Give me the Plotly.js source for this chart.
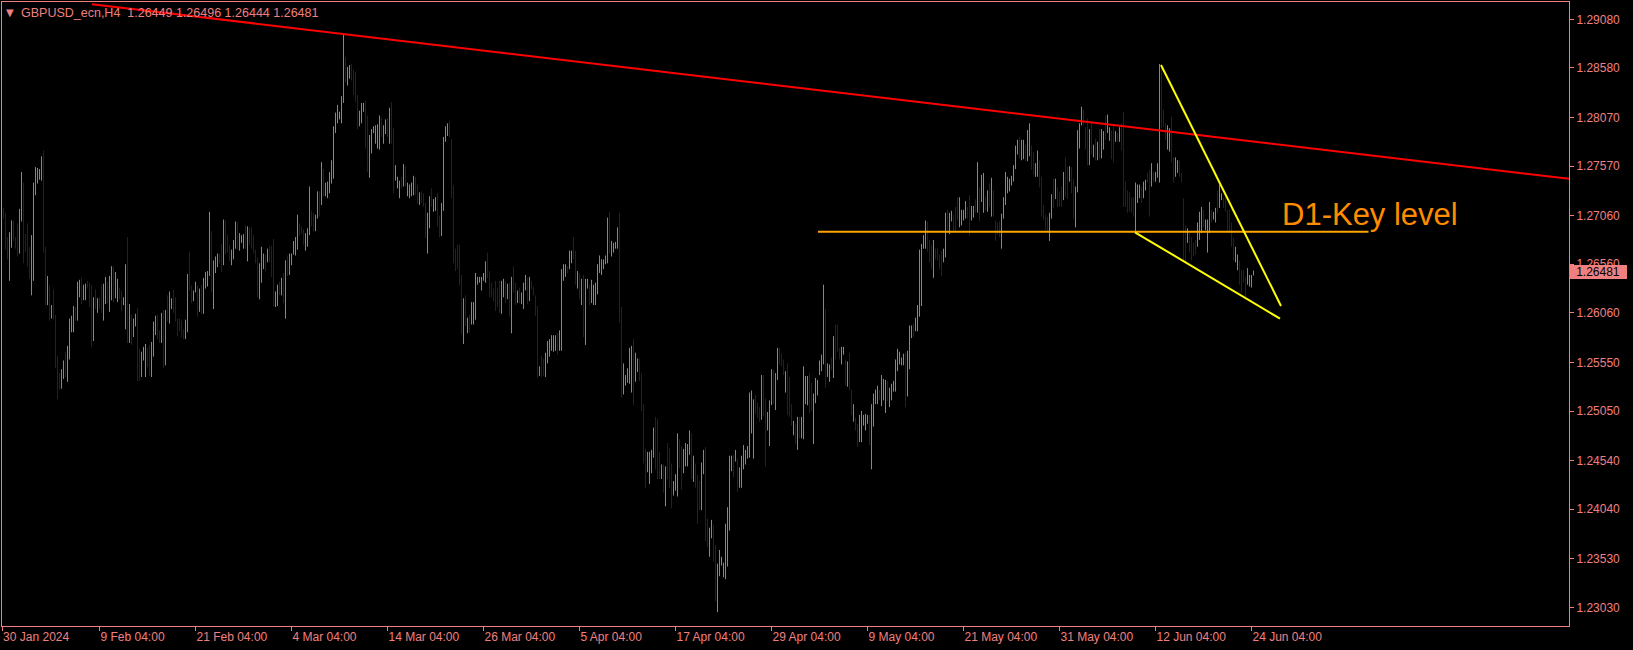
<!DOCTYPE html>
<html>
<head>
<meta charset="utf-8">
<script src="https://cdn.plot.ly/plotly-3.0.1.min.js"></script>
<style>
html,body{margin:0;padding:0;background:#000;overflow:hidden;}
#chart{width:1633px;height:650px;}
</style>
</head>
<body>
<div id="chart"></div>
<script>
// GBPUSD_ecn H4 bars (high / low), oldest first
const barHigh = [
1.2714,1.2709,1.2684,1.2689,1.2701,1.2701,1.2684,1.2698,1.2713,1.2751,
1.2740,1.2687,1.2698,1.2674,1.2686,1.2740,1.2756,1.2755,1.2754,1.2767,
1.2773,1.2674,1.2644,1.2634,1.2614,1.2630,1.2604,1.2562,1.2544,1.2548,
1.2557,1.2566,1.2572,1.2600,1.2603,1.2613,1.2612,1.2638,1.2640,1.2642,
1.2635,1.2636,1.2639,1.2637,1.2635,1.2622,1.2630,1.2621,1.2622,1.2635,
1.2636,1.2643,1.2638,1.2644,1.2654,1.2654,1.2648,1.2641,1.2632,1.2629,
1.2622,1.2656,1.2684,1.2615,1.2604,1.2600,1.2605,1.2611,1.2569,1.2566,
1.2571,1.2574,1.2570,1.2573,1.2576,1.2597,1.2603,1.2604,1.2588,1.2606,
1.2609,1.2609,1.2624,1.2628,1.2621,1.2630,1.2622,1.2600,1.2600,1.2598,
1.2589,1.2599,1.2646,1.2669,1.2634,1.2629,1.2638,1.2634,1.2631,1.2635,
1.2642,1.2648,1.2649,1.2710,1.2690,1.2660,1.2664,1.2667,1.2667,1.2677,
1.2702,1.2701,1.2686,1.2676,1.2671,1.2681,1.2700,1.2699,1.2688,1.2686,
1.2687,1.2696,1.2695,1.2694,1.2694,1.2686,1.2671,1.2663,1.2657,1.2674,
1.2667,1.2666,1.2672,1.2675,1.2675,1.2682,1.2628,1.2635,1.2638,1.2642,
1.2647,1.2660,1.2665,1.2667,1.2667,1.2680,1.2684,1.2707,1.2698,1.2695,
1.2692,1.2688,1.2693,1.2736,1.2711,1.2709,1.2707,1.2731,1.2731,1.2761,
1.2754,1.2740,1.2741,1.2751,1.2763,1.2798,1.2812,1.2820,1.2813,1.2829,
1.2893,1.2869,1.2859,1.2861,1.2862,1.2856,1.2854,1.2830,1.2814,1.2822,
1.2822,1.2824,1.2809,1.2789,1.2795,1.2798,1.2799,1.2800,1.2809,1.2807,
1.2799,1.2805,1.2806,1.2817,1.2823,1.2796,1.2758,1.2746,1.2742,1.2746,
1.2759,1.2757,1.2740,1.2738,1.2740,1.2747,1.2746,1.2738,1.2730,1.2731,
1.2729,1.2719,1.2709,1.2726,1.2734,1.2723,1.2725,1.2729,1.2706,1.2719,
1.2787,1.2798,1.2801,1.2803,1.2785,1.2737,1.2672,1.2676,1.2676,1.2645,
1.2621,1.2624,1.2601,1.2604,1.2617,1.2617,1.2647,1.2643,1.2643,1.2643,
1.2647,1.2659,1.2668,1.2649,1.2637,1.2631,1.2639,1.2632,1.2639,1.2639,
1.2641,1.2639,1.2636,1.2637,1.2643,1.2654,1.2637,1.2629,1.2632,1.2627,
1.2637,1.2645,1.2642,1.2643,1.2639,1.2633,1.2624,1.2613,1.2551,1.2562,
1.2559,1.2565,1.2577,1.2579,1.2583,1.2583,1.2583,1.2585,1.2588,1.2651,
1.2656,1.2656,1.2654,1.2670,1.2670,1.2684,1.2670,1.2649,1.2647,1.2641,
1.2645,1.2641,1.2641,1.2635,1.2640,1.2635,1.2637,1.2656,1.2665,1.2661,
1.2661,1.2665,1.2704,1.2710,1.2680,1.2678,1.2679,1.2694,1.2709,1.2612,
1.2554,1.2542,1.2549,1.2570,1.2572,1.2579,1.2565,1.2559,1.2559,1.2544,
1.2512,1.2466,1.2463,1.2463,1.2465,1.2488,1.2499,1.2497,1.2463,1.2450,
1.2450,1.2448,1.2472,1.2467,1.2451,1.2433,1.2440,1.2482,1.2476,1.2469,
1.2466,1.2472,1.2471,1.2485,1.2482,1.2459,1.2451,1.2439,1.2433,1.2452,
1.2465,1.2468,1.2394,1.2385,1.2393,1.2388,1.2367,1.2348,1.2362,1.2355,
1.2349,1.2389,1.2406,1.2459,1.2459,1.2460,1.2465,1.2456,1.2447,1.2459,
1.2470,1.2465,1.2469,1.2524,1.2526,1.2517,1.2522,1.2514,1.2509,1.2542,
1.2542,1.2518,1.2504,1.2516,1.2548,1.2547,1.2544,1.2570,1.2570,1.2564,
1.2558,1.2546,1.2554,1.2540,1.2512,1.2495,1.2492,1.2499,1.2499,1.2499,
1.2551,1.2541,1.2541,1.2544,1.2534,1.2523,1.2539,1.2537,1.2557,1.2563,
1.2635,1.2610,1.2554,1.2553,1.2560,1.2582,1.2594,1.2594,1.2570,1.2571,
1.2571,1.2558,1.2556,1.2565,1.2527,1.2512,1.2498,1.2492,1.2501,1.2505,
1.2501,1.2502,1.2501,1.2501,1.2512,1.2523,1.2527,1.2531,1.2527,1.2542,
1.2538,1.2537,1.2536,1.2529,1.2533,1.2536,1.2558,1.2569,1.2566,1.2560,
1.2564,1.2565,1.2567,1.2593,1.2593,1.2595,1.2601,1.2614,1.2671,1.2677,
1.2686,1.2701,1.2700,1.2681,1.2676,1.2681,1.2672,1.2672,1.2666,1.2670,
1.2672,1.2709,1.2712,1.2709,1.2711,1.2707,1.2715,1.2725,1.2725,1.2712,
1.2712,1.2721,1.2715,1.2727,1.2716,1.2716,1.2723,1.2761,1.2735,1.2748,
1.2750,1.2725,1.2732,1.2739,1.2745,1.2732,1.2701,1.2699,1.2700,1.2708,
1.2725,1.2751,1.2746,1.2744,1.2747,1.2758,1.2778,1.2784,1.2787,1.2784,
1.2784,1.2779,1.2794,1.2801,1.2778,1.2771,1.2760,1.2773,1.2763,1.2746,
1.2717,1.2707,1.2705,1.2709,1.2728,1.2744,1.2744,1.2735,1.2731,1.2736,
1.2751,1.2766,1.2756,1.2757,1.2756,1.2744,1.2736,1.2794,1.2801,1.2818,
1.2815,1.2797,1.2806,1.2795,1.2802,1.2779,1.2785,1.2782,1.2795,1.2795,
1.2793,1.2809,1.2810,1.2797,1.2794,1.2799,1.2793,1.2791,1.2797,1.2801,
1.2813,1.2741,1.2732,1.2730,1.2725,1.2725,1.2740,1.2738,1.2738,1.2736,
1.2741,1.2743,1.2750,1.2753,1.2760,1.2751,1.2751,1.2760,1.2862,1.2859,
1.2815,1.2801,1.2799,1.2796,1.2808,1.2766,1.2766,1.2763,1.2763,1.2750,
1.2724,1.2696,1.2693,1.2688,1.2684,1.2678,1.2681,1.2699,1.2710,1.2715,
1.2712,1.2702,1.2702,1.2720,1.2712,1.2710,1.2714,1.2732,1.2738,1.2729,
1.2724,1.2725,1.2712,1.2712,1.2699,1.2683,1.2674,1.2666,1.2660,1.2650,
1.2650,1.2643,1.2652,1.2645,1.2645,1.26496
];
const barLow = [
1.2703,1.2671,1.2661,1.2639,1.2673,1.2680,1.2672,1.2664,1.2667,1.2700,
1.2657,1.2669,1.2653,1.2641,1.2624,1.2639,1.2727,1.2739,1.2743,1.2742,
1.2668,1.2614,1.2614,1.2598,1.2600,1.2599,1.2549,1.2517,1.2527,1.2528,
1.2538,1.2540,1.2535,1.2558,1.2586,1.2586,1.2598,1.2598,1.2622,1.2615,
1.2619,1.2619,1.2631,1.2612,1.2571,1.2577,1.2610,1.2606,1.2610,1.2606,
1.2598,1.2615,1.2616,1.2607,1.2619,1.2617,1.2621,1.2617,1.2620,1.2608,
1.2614,1.2589,1.2575,1.2575,1.2573,1.2581,1.2592,1.2536,1.2536,1.2540,
1.2557,1.2540,1.2550,1.2541,1.2540,1.2561,1.2583,1.2579,1.2575,1.2575,
1.2549,1.2552,1.2597,1.2595,1.2610,1.2606,1.2597,1.2582,1.2587,1.2581,
1.2579,1.2579,1.2586,1.2629,1.2616,1.2618,1.2627,1.2602,1.2607,1.2605,
1.2605,1.2631,1.2633,1.2644,1.2627,1.2610,1.2647,1.2653,1.2657,1.2648,
1.2655,1.2666,1.2668,1.2659,1.2655,1.2661,1.2672,1.2671,1.2670,1.2678,
1.2672,1.2672,1.2659,1.2676,1.2672,1.2667,1.2657,1.2622,1.2620,1.2637,
1.2651,1.2649,1.2658,1.2658,1.2643,1.2613,1.2612,1.2613,1.2624,1.2624,
1.2616,1.2600,1.2644,1.2645,1.2655,1.2666,1.2665,1.2671,1.2685,1.2687,
1.2676,1.2670,1.2674,1.2686,1.2695,1.2690,1.2690,1.2703,1.2705,1.2717,
1.2726,1.2726,1.2724,1.2729,1.2739,1.2744,1.2791,1.2801,1.2805,1.2801,
1.2822,1.2843,1.2840,1.2847,1.2845,1.2830,1.2823,1.2795,1.2798,1.2801,
1.2813,1.2775,1.2751,1.2745,1.2770,1.2791,1.2780,1.2775,1.2774,1.2787,
1.2780,1.2790,1.2787,1.2780,1.2780,1.2729,1.2742,1.2734,1.2724,1.2734,
1.2736,1.2736,1.2726,1.2724,1.2726,1.2727,1.2727,1.2718,1.2717,1.2719,
1.2715,1.2683,1.2667,1.2693,1.2715,1.2710,1.2711,1.2695,1.2684,1.2685,
1.2711,1.2782,1.2788,1.2787,1.2724,1.2657,1.2649,1.2651,1.2634,1.2584,
1.2574,1.2593,1.2585,1.2586,1.2594,1.2594,1.2599,1.2635,1.2637,1.2629,
1.2639,1.2637,1.2642,1.2622,1.2622,1.2618,1.2608,1.2612,1.2606,1.2605,
1.2622,1.2616,1.2620,1.2602,1.2585,1.2627,1.2614,1.2616,1.2616,1.2615,
1.2610,1.2629,1.2615,1.2618,1.2630,1.2624,1.2603,1.2539,1.2541,1.2540,
1.2541,1.2540,1.2554,1.2561,1.2567,1.2566,1.2567,1.2563,1.2567,1.2567,
1.2639,1.2643,1.2647,1.2651,1.2657,1.2661,1.2635,1.2631,1.2620,1.2614,
1.2581,1.2573,1.2631,1.2614,1.2616,1.2614,1.2614,1.2625,1.2647,1.2645,
1.2651,1.2656,1.2657,1.2667,1.2664,1.2668,1.2672,1.2672,1.2596,1.2519,
1.2522,1.2531,1.2534,1.2533,1.2524,1.2511,1.2535,1.2545,1.2536,1.2505,
1.2451,1.2426,1.2442,1.2430,1.2441,1.2457,1.2445,1.2435,1.2435,1.2435,
1.2421,1.2407,1.2435,1.2426,1.2405,1.2418,1.2423,1.2417,1.2446,1.2424,
1.2441,1.2448,1.2448,1.2460,1.2435,1.2432,1.2426,1.2389,1.2403,1.2403,
1.2440,1.2371,1.2365,1.2355,1.2374,1.2350,1.2309,1.2298,1.2335,1.2346,
1.2334,1.2332,1.2345,1.2382,1.2443,1.2437,1.2453,1.2422,1.2426,1.2426,
1.2445,1.2450,1.2456,1.2457,1.2482,1.2456,1.2502,1.2498,1.2494,1.2496,
1.2500,1.2448,1.2485,1.2469,1.2511,1.2512,1.2506,1.2537,1.2553,1.2551,
1.2542,1.2524,1.2501,1.2499,1.2490,1.2480,1.2471,1.2465,1.2477,1.2477,
1.2476,1.2512,1.2511,1.2503,1.2505,1.2471,1.2513,1.2521,1.2542,1.2546,
1.2553,1.2529,1.2540,1.2535,1.2547,1.2539,1.2558,1.2566,1.2558,1.2553,
1.2563,1.2531,1.2530,1.2526,1.2501,1.2494,1.2485,1.2468,1.2473,1.2473,
1.2490,1.2485,1.2492,1.2470,1.2445,1.2489,1.2512,1.2512,1.2516,1.2510,
1.2516,1.2503,1.2515,1.2509,1.2516,1.2525,1.2525,1.2546,1.2553,1.2552,
1.2552,1.2509,1.2520,1.2548,1.2580,1.2581,1.2587,1.2587,1.2602,1.2613,
1.2672,1.2672,1.2669,1.2658,1.2651,1.2642,1.2661,1.2660,1.2651,1.2644,
1.2658,1.2663,1.2691,1.2687,1.2700,1.2690,1.2690,1.2701,1.2694,1.2696,
1.2701,1.2703,1.2703,1.2685,1.2701,1.2704,1.2709,1.2709,1.2700,1.2720,
1.2709,1.2711,1.2710,1.2715,1.2705,1.2705,1.2680,1.2686,1.2684,1.2672,
1.2703,1.2717,1.2729,1.2731,1.2737,1.2741,1.2754,1.2769,1.2765,1.2763,
1.2764,1.2762,1.2762,1.2767,1.2753,1.2748,1.2746,1.2746,1.2735,1.2705,
1.2702,1.2691,1.2689,1.2680,1.2703,1.2714,1.2723,1.2715,1.2715,1.2715,
1.2722,1.2725,1.2723,1.2741,1.2729,1.2703,1.2694,1.2730,1.2775,1.2799,
1.2799,1.2774,1.2758,1.2758,1.2769,1.2766,1.2763,1.2763,1.2764,1.2765,
1.2774,1.2784,1.2791,1.2783,1.2764,1.2761,1.2782,1.2782,1.2782,1.2773,
1.2715,1.2715,1.2709,1.2710,1.2709,1.2705,1.2690,1.2719,1.2724,1.2719,
1.2724,1.2732,1.2740,1.2705,1.2736,1.2740,1.2741,1.2745,1.2740,1.2796,
1.2797,1.2784,1.2774,1.2772,1.2761,1.2740,1.2746,1.2750,1.2746,1.2740,
1.2660,1.2658,1.2678,1.2668,1.2660,1.2664,1.2666,1.2674,1.2681,1.2688,
1.2694,1.2691,1.2668,1.2688,1.2699,1.2702,1.2699,1.2709,1.2714,1.2722,
1.2714,1.2710,1.2689,1.2688,1.2674,1.2660,1.2658,1.2650,1.2635,1.2627,
1.2637,1.2622,1.2635,1.2633,1.2632,1.26444
];
// u = bullish bar (light blue), d = bearish bar (dark blue)
const barDir =
"ddduuddduu"+"dddduuuuuu"+"ddududdddu"+"uduuuuduud"+"uudddududd"+
"uuduuduudd"+"uududuuddu"+"uudduuuddu"+"duduuddddd"+"duudduudud"+
"uuuuduuudd"+"uddduuuduu"+"ududdddduu"+"ududdduudu"+"duduuuuudd"+
"duuudduudu"+"duuuuuuuuu"+"uduudddduu"+"udduuuuuud"+"uududduuud"+
"uduuuuddud"+"dduuduuddu"+"uuuddddddd"+"ududuuuuuu"+"uudddddddu"+
"udududdudu"+"uududdddud"+"duuuuuuduu"+"uuduuddudu"+"duuduuuuuu"+
"uuuduuuudd"+"uuuuuduudd"+"dduuuudddu"+"duddduuudd"+"uuuududddu"+
"udduudduuu"+"uuuuududuu"+"uuuuuudddu"+"dduuuduudd"+"dudddududu"+
"uuudduuuuu"+"uduududddu"+"ududdudduu"+"uuuduuuudu"+"uuduuuuuuu"+
"uduuuduuuu"+"uudddudddd"+"uuduuddduu"+"uudduududu"+"udududdddu"+
"uuuuuuuudu"+"uduudduudd"+"ddduududdd"+"uddudduuuu"+"dddudududu"+
"uduuddudud"+"dddddduuud"+"uudduduuud"+"dduudduudd"+"ddudddduuu"+
"duuuduuduu"+"dddddduudd"+"dduuuu";

const timeTickBars   = [0.3, 49, 97, 145, 193, 241, 289, 337, 385, 433, 481, 529, 577, 625];
const timeTickLabels = ["30 Jan 2024","9 Feb 04:00","21 Feb 04:00","4 Mar 04:00","14 Mar 04:00",
  "26 Mar 04:00","5 Apr 04:00","17 Apr 04:00","29 Apr 04:00","9 May 04:00","21 May 04:00",
  "31 May 04:00","12 Jun 04:00","24 Jun 04:00"];
const priceTicks = [1.29080,1.28580,1.28070,1.27570,1.27060,1.26560,1.26060,
                    1.25550,1.25050,1.24540,1.24040,1.23530,1.23030];
const priceTickLabels = ["1.29080","1.28580","1.28070","1.27570","1.27060","1.26560","1.26060",
                    "1.25550","1.25050","1.24540","1.24040","1.23530","1.23030"];
const lastQuote = {symbol:"GBPUSD_ecn,H4", open:"1.26449", high:"1.26496", low:"1.26444", close:"1.26481"};
const lastPrice = 1.26481;

// drawn objects (bar index, price)
const resistanceX = [45.25, 783.75], resistanceY = [1.29235, 1.27440];
const wedgeUpperX = [579.75, 639.75], wedgeUpperY = [1.28610, 1.26131];
const wedgeLowerX = [566.75, 639.25], wedgeLowerY = [1.26889, 1.26000];
const keyLevelX = [408.25, 683.5], keyLevelY = [1.26895, 1.26895];
const keyLevelLabel = "D1-Key level";

const AXIS = '#F08080';
const n = Math.min(barHigh.length, barLow.length, barDir.length);
const upX=[], upY=[], dnX=[], dnY=[];
for (let i = 0; i < n; i++) {
  const xs = barDir[i] === 'u' ? upX : dnX;
  const ys = barDir[i] === 'u' ? upY : dnY;
  xs.push(i + 1, i + 1, null);
  ys.push(barLow[i], barHigh[i], null);
}

const traces = [
  {type:'scatter', mode:'lines', x:dnX, y:dnY, line:{color:'#0A0ADC', width:1}, hoverinfo:'skip'},
  {type:'scatter', mode:'lines', x:upX, y:upY, line:{color:'#24A8E2', width:1}, hoverinfo:'skip'},
  {type:'scatter', mode:'lines', x:keyLevelX, y:keyLevelY, line:{color:'#FFA500', width:2}, hoverinfo:'skip'},
  {type:'scatter', mode:'lines', x:resistanceX, y:resistanceY, line:{color:'#FF0000', width:2}, hoverinfo:'skip'},
  {type:'scatter', mode:'lines', x:wedgeUpperX, y:wedgeUpperY, line:{color:'#FFFF00', width:2}, hoverinfo:'skip'},
  {type:'scatter', mode:'lines', x:wedgeLowerX, y:wedgeLowerY, line:{color:'#FFFF00', width:2}, hoverinfo:'skip'}
];

const tickFont = {family:'Liberation Sans, Arial, sans-serif', size:12, color:AXIS};
const layout = {
  width:1633, height:650,
  paper_bgcolor:'#000000', plot_bgcolor:'#000000',
  margin:{l:2, r:64, t:2, b:24, pad:0},
  showlegend:false, hovermode:false,
  xaxis:{
    range:[0.25, 783.75], showgrid:false, zeroline:false,
    showline:true, mirror:true, linecolor:AXIS, linewidth:1,
    ticks:'outside', ticklen:4, tickwidth:1, tickcolor:AXIS,
    tickmode:'array', tickvals:timeTickBars, ticktext:timeTickLabels,
    ticklabelposition:'outside right', tickangle:0, tickfont:tickFont, fixedrange:true
  },
  yaxis:{
    range:[1.228379, 1.292583], side:'right', showgrid:false, zeroline:false,
    showline:true, mirror:true, linecolor:AXIS, linewidth:1,
    ticks:'outside', ticklen:4, tickwidth:1, tickcolor:AXIS,
    tickmode:'array', tickvals:priceTicks, ticktext:priceTickLabels,
    tickfont:tickFont, fixedrange:true
  },
  annotations:[
    {xref:'paper', yref:'paper', x:0.00542, y:0.98285, xanchor:'center', yanchor:'middle',
     text:'▼', showarrow:false, font:{family:'DejaVu Sans', size:10, color:AXIS}, borderpad:0, borderwidth:0},
    {xref:'paper', yref:'paper', x:0.01213, y:0.98285, xanchor:'left', yanchor:'middle',
     text: lastQuote.symbol + '\u00A0\u00A0' + [lastQuote.open, lastQuote.high, lastQuote.low, lastQuote.close].join(' '),
     showarrow:false, font:{family:'Liberation Sans, Arial, sans-serif', size:12.5, color:AXIS}, borderpad:0, borderwidth:0},
    {xref:'x', yref:'y', x:640.1, y:1.27074, xanchor:'left', yanchor:'middle',
     text:keyLevelLabel, showarrow:false, font:{family:'Liberation Sans, Arial, sans-serif', size:31, color:'#FF8C00'},
     borderpad:0, borderwidth:0},
    {xref:'paper', yref:'y', x:1, y:lastPrice, xanchor:'left', yanchor:'middle',
     text:lastPrice.toFixed(5), showarrow:false, width:58, height:14, align:'center',
     bgcolor:AXIS, font:{family:'Liberation Sans, Arial, sans-serif', size:12, color:'#000000'},
     borderpad:0, borderwidth:0}
  ]
};

Plotly.newPlot('chart', traces, layout, {staticPlot:true, displayModeBar:false});
</script>
</body>
</html>
